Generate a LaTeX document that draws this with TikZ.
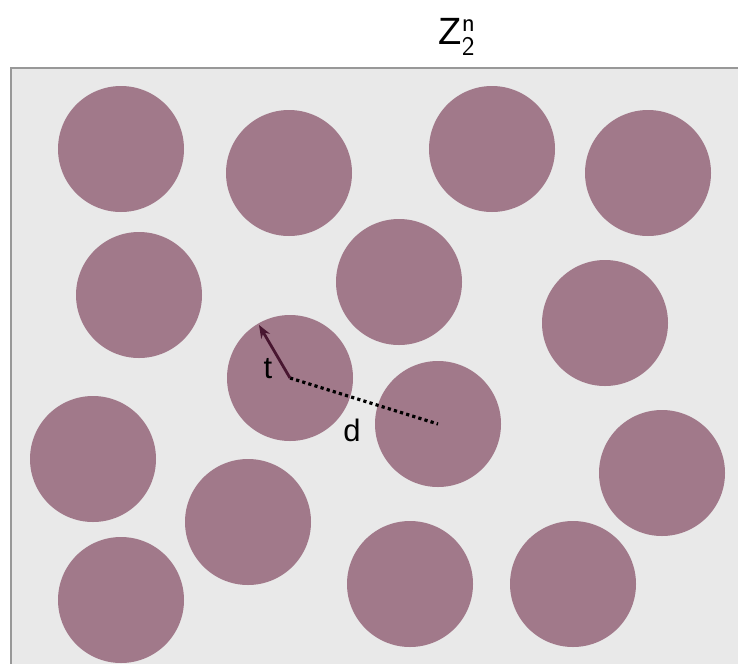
\documentclass[tikz,border=0pt]{standalone}
\usepackage{fontspec}
\setmainfont{Liberation Sans}
\usepackage{unicode-math}
\setmathfont{Latin Modern Math}
\usetikzlibrary{arrows.meta,positioning}
\definecolor{discpurple}{RGB}{161,121,138}
\definecolor{boxgray}{RGB}{233,233,233}
\definecolor{framegray}{RGB}{152,152,152}
\definecolor{arrowplum}{RGB}{72,22,48}
\tikzset{
  disc/.style={
    circle, fill=discpurple, draw=none,
    minimum size=126pt, inner sep=0pt
  },
  radius arrow/.style={-{Stealth[length=13pt,width=10pt]}, line width=2.8pt, arrowplum},
  distance line/.style={line width=3.2pt, dash pattern=on 3.2pt off 3.2pt, black},
  axis label/.style={font=\fontsize{31}{31}\selectfont, inner sep=0pt}
}

\begin{document}
\begin{tikzpicture}[x=1pt, y=-1pt]
    \useasboundingbox (0,0) rectangle (738,664);
    % space box
    \fill[boxgray] (11,68) rectangle (738,664);
    \draw[framegray, line width=2pt] (738,68) -- (11,68) -- (11,664);
    \node[font=\fontsize{38}{38}\selectfont, inner sep=0pt] (title) at (457,37) {Z$^{\textsf{\fontsize{27}{27}\selectfont n}}_{\textsf{\fontsize{27}{27}\selectfont 2}}$};
    % codewords
    \node[disc] (c1) at (121,149) {};
    \node[disc] (c2) at (289,173) {};
    \node[disc] (c3) at (492,149) {};
    \node[disc] (c4) at (648,173) {};
    \node[disc] (c5) at (139,295) {};
    \node[disc] (c6) at (399,282) {};
    \node[disc] (c7) at (605,323) {};
    \node[disc] (c8) at (290,378) {};
    \node[disc] (c9) at (438,424) {};
    \node[disc] (c10) at (93,459) {};
    \node[disc] (c11) at (662,473) {};
    \node[disc] (c12) at (248,522) {};
    \node[disc] (c13) at (121,600) {};
    \node[disc] (c14) at (410,584) {};
    \node[disc] (c15) at (573,584) {};
    \coordinate (tip) at (259,325);
    \draw[distance line] (c8.center) -- (c9.center);
    \draw[radius arrow] (c8.center) -- (tip);
    \node[axis label] (tlabel) at (268,369) {t};
    \node[axis label] (dlabel) at (352,430) {d};
  \end{tikzpicture}
\end{document}
